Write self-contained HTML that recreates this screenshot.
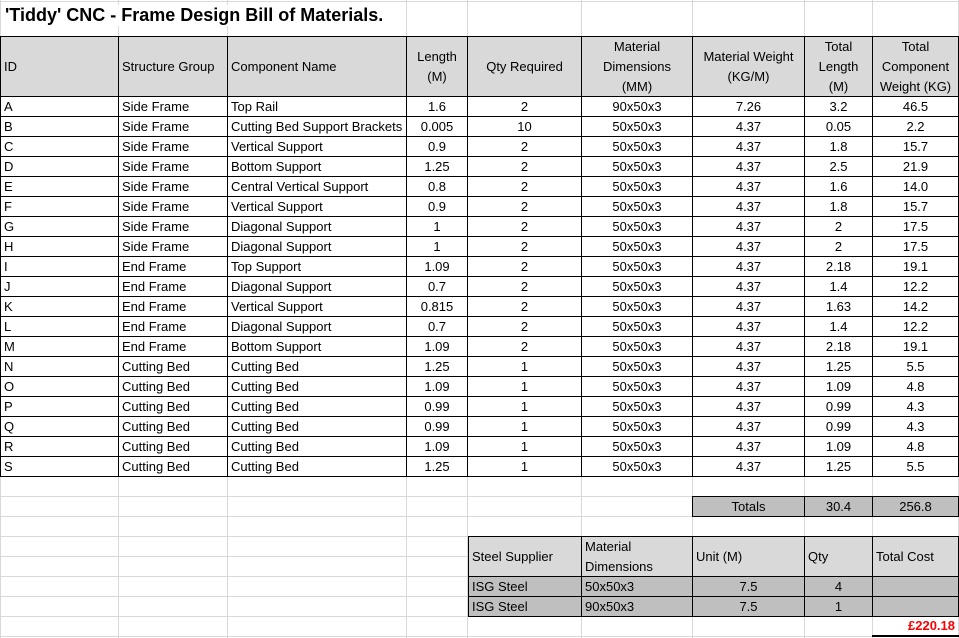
<!DOCTYPE html>
<html><head><meta charset="utf-8">
<style>
body{margin:0;width:959px;height:638px;background:#fff;overflow:hidden;position:relative;font-family:"Liberation Sans",sans-serif;font-size:13px;color:#000}
.c{position:absolute;box-sizing:border-box;display:flex;align-items:center;overflow:hidden;white-space:nowrap;padding:0 3px;line-height:20px}
.g{position:absolute;background:#d9d9d9}
.title{position:absolute;left:5px;top:5px;font-weight:bold;font-size:18px;white-space:nowrap;background:#fff;padding-right:4px}
</style></head><body>
<div id="grid"></div>
<div class="title">'Tiddy' CNC - Frame Design Bill of Materials.</div>
<div id="sheet"></div>
<script>
const colX=[0,118,227,406,467,581,692,804,872,958];
const headers=["ID","Structure Group","Component Name","Length<br>(M)","Qty Required","Material<br>Dimensions<br>(MM)","Material Weight<br>(KG/M)","Total<br>Length<br>(M)","Total<br>Component<br>Weight (KG)"];
const ids=["A","B","C","D","E","F","G","H","I","J","K","L","M","N","O","P","Q","R","S"];
const groups=["Side Frame","Side Frame","Side Frame","Side Frame","Side Frame","Side Frame","Side Frame","Side Frame","End Frame","End Frame","End Frame","End Frame","End Frame","Cutting Bed","Cutting Bed","Cutting Bed","Cutting Bed","Cutting Bed","Cutting Bed"];
const names=["Top Rail","Cutting Bed Support Brackets","Vertical Support","Bottom Support","Central Vertical Support","Vertical Support","Diagonal Support","Diagonal Support","Top Support","Diagonal Support","Vertical Support","Diagonal Support","Bottom Support","Cutting Bed","Cutting Bed","Cutting Bed","Cutting Bed","Cutting Bed","Cutting Bed"];
const lengths=["1.6","0.005","0.9","1.25","0.8","0.9","1","1","1.09","0.7","0.815","0.7","1.09","1.25","1.09","0.99","0.99","1.09","1.25"];
const qtys=["2","10","2","2","2","2","2","2","2","2","2","2","2","1","1","1","1","1","1"];
const dims=["90x50x3","50x50x3","50x50x3","50x50x3","50x50x3","50x50x3","50x50x3","50x50x3","50x50x3","50x50x3","50x50x3","50x50x3","50x50x3","50x50x3","50x50x3","50x50x3","50x50x3","50x50x3","50x50x3"];
const weights=["7.26","4.37","4.37","4.37","4.37","4.37","4.37","4.37","4.37","4.37","4.37","4.37","4.37","4.37","4.37","4.37","4.37","4.37","4.37"];
const totLen=["3.2","0.05","1.8","2.5","1.6","1.8","2","2","2.18","1.4","1.63","1.4","2.18","1.25","1.09","0.99","0.99","1.09","1.25"];
const totW=["46.5","2.2","15.7","21.9","14.0","15.7","17.5","17.5","19.1","12.2","14.2","12.2","19.1","5.5","4.8","4.3","4.3","4.8","5.5"];
const S=document.getElementById('sheet'),G=document.getElementById('grid');
function cell(x,y,w,h,html,o,name){
  const d=document.createElement('div');d.className='c';
  d.style.cssText=`left:${x}px;top:${y}px;width:${w+1}px;height:${h+1}px;border:1px solid #000;background:${o.bg||'#fff'};justify-content:${o.al||'flex-start'};text-align:${o.al=='center'?'center':'left'};color:${o.color||'#000'};${o.extra||''}`;
  d.innerHTML=html;
  
  
  S.appendChild(d);
}
const gx=[0,118,227,406,467,581,692,804,872,958];
gx.forEach(x=>{const l=document.createElement('div');l.className='g';l.style.cssText=`left:${x}px;top:0;width:1px;height:638px`;


G.appendChild(l);});
const gy=[1,36,96];for(let y=116;y<=636;y+=20)gy.push(y);
gy.forEach(y=>{const l=document.createElement('div');l.className='g';l.style.cssText=`left:0;top:${y}px;width:959px;height:1px`;


G.appendChild(l);});
headers.forEach((h,i)=>cell(colX[i],36,colX[i+1]-colX[i],60,h,{bg:'#d9d9d9',al:i<3?'flex-start':'center'},'header-'+i));
const cols=[ids,groups,names,lengths,qtys,dims,weights,totLen,totW];
for(let r=0;r<ids.length;r++){
  const y=96+r*20;
  cols.forEach((arr,i)=>cell(colX[i],y,colX[i+1]-colX[i],20,arr[r],{al:i<3?'flex-start':'center',extra:i==2?'padding-right:0;':''},'row-'+ids[r]+'-col-'+i));
}
cell(692,496,112,20,'Totals',{bg:'#bfbfbf',al:'center'},'totals-label');
cell(804,496,68,20,'30.4',{bg:'#bfbfbf',al:'center'},'total-length');
cell(872,496,86,20,'256.8',{bg:'#bfbfbf',al:'center'},'total-weight');
const sx=[468,581,692,804,872,958];
const sh=["Steel Supplier","Material<br>Dimensions","Unit (M)","Qty","Total Cost"];
sh.forEach((h,i)=>cell(sx[i],536,sx[i+1]-sx[i],40,h,{bg:'#d9d9d9',extra:'line-height:20px;'},'supplier-header-'+i));
const sup=[["ISG Steel","50x50x3","7.5","4",""],["ISG Steel","90x50x3","7.5","1",""]];
sup.forEach((row,r)=>row.forEach((v,i)=>cell(sx[i],576+r*20,sx[i+1]-sx[i],20,v,{bg:'#bfbfbf',al:(i==2||i==3)?'center':'flex-start'},'supplier-row-'+r+'-col-'+i)));
const tc=document.createElement('div');tc.className='c';
tc.style.cssText='left:872px;top:616px;width:87px;height:21px;justify-content:flex-end;color:#ff0000;font-weight:bold;border-bottom:2px solid #000;padding-right:4px';
tc.textContent='£220.18';


S.appendChild(tc);
</script>
</body></html>
